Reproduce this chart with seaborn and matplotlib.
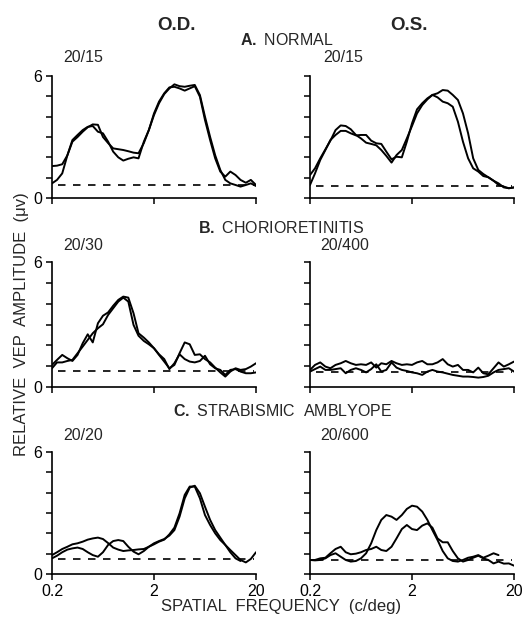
import numpy as np
import pandas as pd
import matplotlib
matplotlib.use("Agg")
import matplotlib.pyplot as plt
import seaborn as sns

# ---------------- data ----------------
freq = [0.2, 0.224, 0.252, 0.283, 0.317, 0.356, 0.4, 0.448, 0.502, 0.564,
        0.632, 0.71, 0.796, 0.893, 1.0, 1.12, 1.26, 1.41, 1.59, 1.78,
        2.0, 2.24, 2.52, 2.83, 3.17, 3.56, 4.0, 4.48, 5.02, 5.64,
        6.32, 7.1, 7.96, 8.93, 10.0, 11.2, 12.6, 14.1, 15.9, 17.8, 20.0]
nan = float("nan")

a_od_1 = [1.57, 1.59, 1.66, 2.1, 2.77, 3.0, 3.26, 3.48, 3.62, 3.6,
          3.0, 2.7, 2.44, 2.4, 2.36, 2.3, 2.23, 2.2, 2.7, 3.34,
          4.08, 4.66, 5.11, 5.39, 5.59, 5.5, 5.47, 5.52, 5.56, 5.06,
          4.0, 3.0, 2.1, 1.38, 0.89, 0.72, 0.64, 0.56, 0.64, 0.72, 0.59]
a_od_2 = [0.72, 0.89, 1.21, 2.1, 2.85, 3.1, 3.34, 3.5, 3.54, 3.26,
          3.18, 2.77, 2.28, 2.0, 1.84, 1.93, 2.0, 1.95, 2.77, 3.34,
          4.16, 4.74, 5.15, 5.44, 5.47, 5.39, 5.28, 5.39, 5.5, 4.98,
          3.84, 2.85, 1.95, 1.3, 1.05, 1.3, 1.13, 0.89, 0.75, 0.89, 0.64]
a_os_1 = [1.13, 1.46, 1.95, 2.39, 2.82, 3.34, 3.57, 3.54, 3.38, 3.1,
          2.93, 2.72, 2.66, 2.59, 2.36, 2.07, 1.74, 2.11, 2.36, 2.93,
          3.54, 4.16, 4.57, 4.85, 5.07, 5.15, 5.31, 5.28, 5.07, 4.82,
          4.16, 3.18, 1.95, 1.38, 1.18, 1.02, 0.85, 0.72, 0.52, 0.48, 0.52]
a_os_2 = [0.64, 1.21, 1.87, 2.36, 2.85, 3.1, 3.3, 3.3, 3.18, 3.08,
          3.1, 3.1, 2.82, 2.69, 2.66, 2.28, 1.9, 2.03, 2.0, 2.77,
          3.67, 4.36, 4.66, 4.9, 5.07, 4.95, 4.74, 4.66, 4.49, 3.75,
          2.77, 1.95, 1.46, 1.3, 1.08, 1.02, 0.85, 0.64, 0.56, 0.48, 0.52]

b_od_1 = [1.06, 1.3, 1.54, 1.38, 1.25, 1.54, 2.1, 2.53, 2.14, 3.06,
          3.42, 3.58, 3.9, 4.18, 4.34, 4.29, 3.54, 2.58, 2.37, 2.14,
          1.86, 1.54, 1.22, 0.9, 1.06, 1.62, 2.14, 2.05, 1.54, 1.57,
          1.34, 1.18, 0.93, 0.7, 0.5, 0.74, 0.9, 0.82, 0.86, 0.98, 1.14]
b_od_2 = [0.9, 1.18, 1.18, 1.25, 1.3, 1.62, 1.94, 2.26, 2.58, 2.82,
          3.01, 3.46, 3.78, 4.1, 4.29, 4.1, 2.98, 2.46, 2.21, 2.05,
          1.86, 1.57, 1.34, 0.86, 1.14, 1.57, 1.34, 1.22, 1.18, 1.25,
          1.5, 1.09, 0.9, 0.82, 0.58, 0.82, 0.86, 0.74, 0.66, 0.66, 0.7]
b_os_1 = [0.82, 1.06, 1.18, 0.98, 0.9, 1.06, 1.14, 1.25, 1.14, 1.06,
          1.09, 1.06, 1.18, 0.93, 1.14, 1.09, 1.25, 1.14, 1.06, 1.09,
          1.06, 1.18, 1.25, 1.09, 1.09, 1.18, 1.34, 1.09, 0.98, 1.06,
          0.82, 0.82, 0.7, 0.93, 0.66, 0.61, 0.9, 1.18, 0.98, 1.09, 1.22]
b_os_2 = [0.74, 0.86, 0.98, 0.82, 0.82, 0.86, 0.9, 0.66, 0.82, 0.9,
          0.82, 0.7, 0.86, 1.09, 0.74, 0.82, 1.18, 0.93, 0.82, 0.77,
          0.7, 0.66, 0.58, 0.74, 0.82, 0.74, 0.7, 0.64, 0.58, 0.54,
          0.5, 0.5, 0.48, 0.45, 0.48, 0.54, 0.7, 0.82, 0.86, 0.9, 0.74]

c_od_1 = [0.93, 1.07, 1.23, 1.34, 1.46, 1.51, 1.59, 1.69, 1.75, 1.79,
          1.72, 1.52, 1.3, 1.2, 1.13, 1.16, 1.18, 1.21, 1.23, 1.34,
          1.46, 1.59, 1.69, 1.95, 2.28, 2.98, 3.89, 4.3, 4.3, 3.72,
          2.9, 2.41, 2.0, 1.67, 1.43, 1.18, 0.93, 0.69, 0.57, 0.74, 1.07]
c_od_2 = [0.77, 0.9, 1.07, 1.2, 1.26, 1.3, 1.23, 1.07, 0.93, 0.85,
          1.07, 1.43, 1.62, 1.67, 1.62, 1.34, 1.1, 0.97, 1.13, 1.34,
          1.51, 1.62, 1.72, 1.89, 2.16, 2.82, 3.72, 4.25, 4.34, 3.97,
          3.31, 2.66, 2.16, 1.79, 1.43, 1.07, 0.77, 0.64, nan, nan, nan]
c_os_1 = [0.69, 0.67, 0.69, 0.77, 0.93, 1.02, 0.85, 0.69, 0.61, 0.64,
          0.77, 1.02, 1.51, 2.16, 2.66, 2.9, 2.82, 2.66, 2.9, 3.2,
          3.36, 3.31, 3.07, 2.66, 2.16, 1.67, 1.13, 0.77, 0.64, 0.61,
          0.69, 0.8, 0.85, 0.93, 0.8, 0.9, 1.02, 0.93, nan, nan, nan]
c_os_2 = [0.69, 0.69, 0.77, 0.8, 1.02, 1.23, 1.34, 1.07, 0.97, 1.0,
          1.07, 1.18, 1.23, 1.34, 1.18, 1.13, 1.34, 1.75, 2.21, 2.41,
          2.21, 2.16, 2.38, 2.49, 2.28, 1.75, 1.56, 1.56, 1.13, 0.77,
          0.61, 0.69, 0.8, 0.9, 0.77, 0.69, 0.52, 0.61, 0.51, 0.52, 0.41]

noise_levels = [0.64, 0.6, 0.78, 0.74, 0.74, 0.67]
acuity = ["20/15", "20/15", "20/30", "20/400", "20/20", "20/600"]
row_titles = [r"$\mathbf{A.}$ NORMAL", r"$\mathbf{B.}$ CHORIORETINITIS",
              r"$\mathbf{C.}$ STRABISMIC  AMBLYOPE"]
eye_titles = ["O.D.", "O.S."]
xtick_vals = [0.2, 2, 20]
xtick_labels = ["0.2", "2", "20"]
ytick_vals = [0, 1, 2, 3, 4, 5, 6]

panels = [(a_od_1, a_od_2), (a_os_1, a_os_2),
          (b_od_1, b_od_2), (b_os_1, b_os_2),
          (c_od_1, c_od_2), (c_os_1, c_os_2)]

rows = []
for p, (t1, t2) in enumerate(panels):
    for k, tr in enumerate((t1, t2)):
        for f, v in zip(freq, tr):
            rows.append({"panel": p, "trace": k, "freq": f, "amp": v})
df = pd.DataFrame(rows)

# ---------------- style ----------------
sns.set_theme(style="ticks")
plt.rcParams["font.family"] = ["Liberation Sans", "DejaVu Sans"]
plt.rcParams["mathtext.fontset"] = "custom"
plt.rcParams["mathtext.rm"] = "Liberation Sans"
plt.rcParams["mathtext.bf"] = "Liberation Sans:bold"

W, H = 527, 621
fig = plt.figure(figsize=(W / 100, H / 100), dpi=100)

col_left = [52, 310]
ax_w = 204
row_top = [76, 262, 452]
row_bot = [198, 387, 574]

for p in range(6):
    r, c = divmod(p, 2)
    x0 = col_left[c] / W
    y0 = 1 - row_bot[r] / H
    h = (row_bot[r] - row_top[r]) / H
    ax = fig.add_axes([x0, y0, ax_w / W, h])
    sub = df[df["panel"] == p].dropna()
    sns.lineplot(data=sub, x="freq", y="amp", units="trace", estimator=None,
                 color="black", lw=1.4, ax=ax, legend=False, sort=False)
    ax.axhline(noise_levels[p], xmin=0.03, xmax=0.99, color="black",
               lw=1.2, ls=(0, (4.5, 4.5)))
    ax.set_xscale("log")
    ax.set_xlim(0.2, 20)
    ax.set_ylim(0, 6)
    ax.set_xticks(xtick_vals)
    ax.minorticks_off()
    if r == 2:
        ax.set_xticklabels(xtick_labels)
    else:
        ax.set_xticklabels([])
    ax.set_yticks(ytick_vals)
    if c == 0:
        ax.set_yticklabels(["0", "", "", "", "", "", "6"])
    else:
        ax.set_yticklabels([])
    ax.set_xlabel("")
    ax.set_ylabel("")
    ax.tick_params(direction="out", length=4, width=1.1, color="black",
                   labelsize=11.5, pad=3, labelcolor="black")
    for s in ["left", "bottom"]:
        ax.spines[s].set_color("black")
        ax.spines[s].set_linewidth(1.2)
    sns.despine(ax=ax)
    ax.patch.set_alpha(0)

# titles
fig.text(176 / W, 1 - 25 / H, eye_titles[0], ha="center", va="center",
         fontsize=13.5, fontweight="bold")
fig.text(409 / W, 1 - 25 / H, eye_titles[1], ha="center", va="center",
         fontsize=13.5, fontweight="bold")
row_title_pos = [(287, 40), (281, 228), (283, 411)]
for (x, y), t in zip(row_title_pos, row_titles):
    fig.text(x / W, 1 - y / H, t, ha="center", va="center", fontsize=11.5)
acu_pos = [(83, 57), (343, 57), (83, 245), (345, 245), (83, 435), (345, 435)]
for (x, y), t in zip(acu_pos, acuity):
    fig.text(x / W, 1 - y / H, t, ha="center", va="center", fontsize=11.5)

fig.text(22 / W, 1 - 324 / H, "RELATIVE  VEP  AMPLITUDE  (\u03bcv)",
         rotation=90, ha="center", va="center", fontsize=12)
fig.text(281 / W, 1 - 607 / H, "SPATIAL  FREQUENCY  (c/deg)",
         ha="center", va="center", fontsize=12)

fig.savefig("out.png", dpi=100, facecolor="white")
